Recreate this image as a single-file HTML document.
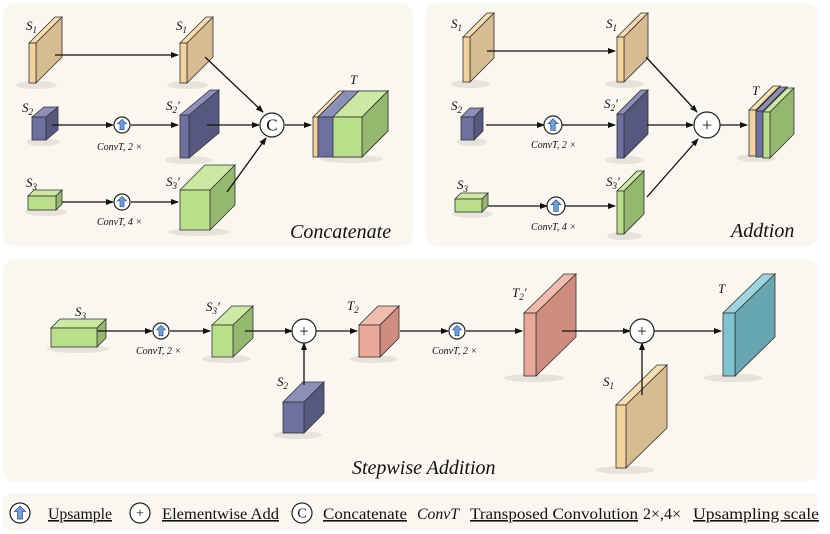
<!DOCTYPE html>
<html><head><meta charset="utf-8"><style>
html,body{margin:0;padding:0;background:#fff;width:830px;height:534px;overflow:hidden}
svg{display:block}
text{font-family:"Liberation Serif",serif;fill:#111}
.it{font-style:italic}
</style></head><body>
<svg id="s" width="830" height="534" viewBox="0 0 830 534" xmlns="http://www.w3.org/2000/svg">
<defs>
<marker id="a" markerWidth="8" markerHeight="8" refX="7" refY="4" orient="auto" markerUnits="userSpaceOnUse"><path d="M0,1 L8,4 L0,7 z" fill="#111"/></marker>
</defs>
<rect x="3" y="3" width="410" height="243" rx="12" fill="#faf7f0"/>
<rect x="426" y="3" width="392" height="243" rx="12" fill="#faf7f0"/>
<rect x="3" y="259" width="815" height="223" rx="12" fill="#faf7f0"/>
<rect x="3" y="493" width="815" height="38" rx="8" fill="#faf7f0"/>
<g id="shapes"></g>
<g id="lines" stroke="#111" stroke-width="1.3" fill="none">
<line x1="55" y1="55" x2="178" y2="55" marker-end="url(#a)"/>
<line x1="52" y1="125" x2="113" y2="125" marker-end="url(#a)"/>
<line x1="131" y1="125" x2="178" y2="125" marker-end="url(#a)"/>
<line x1="62" y1="202" x2="113" y2="202" marker-end="url(#a)"/>
<line x1="131" y1="202" x2="178" y2="202" marker-end="url(#a)"/>
<line x1="205" y1="57" x2="263" y2="112" marker-end="url(#a)"/>
<line x1="207" y1="125" x2="259" y2="125" marker-end="url(#a)"/>
<line x1="227" y1="192" x2="266" y2="138" marker-end="url(#a)"/>
<line x1="285" y1="125" x2="311" y2="125" marker-end="url(#a)"/>
<line x1="487" y1="51" x2="615" y2="51" marker-end="url(#a)"/>
<line x1="486" y1="125" x2="544" y2="125" marker-end="url(#a)"/>
<line x1="562" y1="125" x2="615" y2="125" marker-end="url(#a)"/>
<line x1="488" y1="206" x2="547" y2="206" marker-end="url(#a)"/>
<line x1="565" y1="206" x2="615" y2="206" marker-end="url(#a)"/>
<line x1="646" y1="57" x2="697" y2="112" marker-end="url(#a)"/>
<line x1="647" y1="125" x2="693" y2="125" marker-end="url(#a)"/>
<line x1="647" y1="197" x2="698" y2="139" marker-end="url(#a)"/>
<line x1="720" y1="125" x2="747" y2="125" marker-end="url(#a)"/>
<line x1="97" y1="331" x2="152" y2="331" marker-end="url(#a)"/>
<line x1="170" y1="331" x2="210" y2="331" marker-end="url(#a)"/>
<line x1="245" y1="331" x2="292" y2="331" marker-end="url(#a)"/>
<line x1="304" y1="385" x2="304" y2="343" marker-end="url(#a)"/>
<line x1="316" y1="331" x2="357" y2="331" marker-end="url(#a)"/>
<line x1="400" y1="331" x2="448" y2="331" marker-end="url(#a)"/>
<line x1="466" y1="331" x2="522" y2="331" marker-end="url(#a)"/>
<line x1="562" y1="331" x2="630" y2="331" marker-end="url(#a)"/>
<line x1="642" y1="395" x2="642" y2="343" marker-end="url(#a)"/>
<line x1="654" y1="331" x2="721" y2="331" marker-end="url(#a)"/>
</g>
<g id="circles"></g>
<g font-size="13">
<text x="26" y="30" class="it">S<tspan font-size="9" dy="3">1</tspan></text>
<text x="176" y="30" class="it">S<tspan font-size="9" dy="3">1</tspan></text>
<text x="22" y="112" class="it">S<tspan font-size="9" dy="3">2</tspan></text>
<text x="166" y="110" class="it">S<tspan font-size="9" dy="3">2</tspan><tspan dy="-3">′</tspan></text>
<text x="26" y="187" class="it">S<tspan font-size="9" dy="3">3</tspan></text>
<text x="166" y="186" class="it">S<tspan font-size="9" dy="3">3</tspan><tspan dy="-3">′</tspan></text>
<text x="350" y="84" class="it">T</text>
<text x="97" y="150" class="it" font-size="10">ConvT, 2 ×</text>
<text x="97" y="225" class="it" font-size="10">ConvT, 4 ×</text>
<text x="290" y="238" class="it" font-size="20">Concatenate</text>

<text x="451" y="28" class="it">S<tspan font-size="9" dy="3">1</tspan></text>
<text x="606" y="28" class="it">S<tspan font-size="9" dy="3">1</tspan></text>
<text x="451" y="110" class="it">S<tspan font-size="9" dy="3">2</tspan></text>
<text x="604" y="108" class="it">S<tspan font-size="9" dy="3">2</tspan><tspan dy="-3">′</tspan></text>
<text x="457" y="189" class="it">S<tspan font-size="9" dy="3">3</tspan></text>
<text x="606" y="186" class="it">S<tspan font-size="9" dy="3">3</tspan><tspan dy="-3">′</tspan></text>
<text x="752" y="95" class="it">T</text>
<text x="531" y="148" class="it" font-size="10">ConvT, 2 ×</text>
<text x="531" y="230" class="it" font-size="10">ConvT, 4 ×</text>
<text x="731" y="237" class="it" font-size="20">Addtion</text>

<text x="75" y="316" class="it">S<tspan font-size="9" dy="3">3</tspan></text>
<text x="206" y="311" class="it">S<tspan font-size="9" dy="3">3</tspan><tspan dy="-3">′</tspan></text>
<text x="347" y="310" class="it">T<tspan font-size="9" dy="3">2</tspan></text>
<text x="512" y="297" class="it">T<tspan font-size="9" dy="3">2</tspan><tspan dy="-3">′</tspan></text>
<text x="277" y="386" class="it">S<tspan font-size="9" dy="3">2</tspan></text>
<text x="603" y="386" class="it">S<tspan font-size="9" dy="3">1</tspan></text>
<text x="718" y="293" class="it">T</text>
<text x="136" y="354" class="it" font-size="10">ConvT, 2 ×</text>
<text x="432" y="354" class="it" font-size="10">ConvT, 2 ×</text>
<text x="352" y="474" class="it" font-size="20">Stepwise Addition</text>
</g>
<g font-size="16">
<text x="48" y="519" text-decoration="underline" textLength="64" lengthAdjust="spacingAndGlyphs">Upsample</text>
<text x="162" y="519" text-decoration="underline" textLength="117" lengthAdjust="spacingAndGlyphs">Elementwise Add</text>
<text x="323" y="519" text-decoration="underline" textLength="84" lengthAdjust="spacingAndGlyphs">Concatenate</text>
<text x="417" y="519" class="it" textLength="42" lengthAdjust="spacingAndGlyphs">ConvT</text>
<text x="470" y="519" text-decoration="underline" textLength="168" lengthAdjust="spacingAndGlyphs">Transposed Convolution</text>
<text x="643" y="519" textLength="38" lengthAdjust="spacingAndGlyphs">2×,4×</text>
<text x="693" y="519" text-decoration="underline" textLength="126" lengthAdjust="spacingAndGlyphs">Upsampling scale</text>
</g>
</svg>
<script>
var NS="http://www.w3.org/2000/svg";
var C={tan:["#f3d39c","#f7ddb0","#d6bc90"],pur:["#6e70a0","#8d8fba","#56587f"],grn:["#b9df8a","#cbe9a3","#94b86e"],sal:["#eaa898","#f0bcae","#d18c80"],teal:["#80c4d1","#9dd4de","#67a7b4"]};
var g=document.getElementById("shapes");
function el(t,a,p){var e=document.createElementNS(NS,t);for(var k in a)e.setAttribute(k,a[k]);(p||g).appendChild(e);return e;}
function cub(x,y,w,h,d,dy,c,sh){var k=C[c];
 if(sh!==false)el("ellipse",{cx:x+w/2+4,cy:y+h+2,rx:(w+d)/2+4,ry:4,fill:"#000",opacity:"0.08"});
 var s={stroke:"#333","stroke-width":"0.8"};
 el("polygon",Object.assign({points:[x,y,x+d,y-dy,x+w+d,y-dy,x+w,y].join(","),fill:k[1]},s));
 el("polygon",Object.assign({points:[x+w,y,x+w+d,y-dy,x+w+d,y+h-dy,x+w,y+h].join(","),fill:k[2]},s));
 el("rect",Object.assign({x:x,y:y,width:w,height:h,fill:k[0]},s));}
cub(29,43,7,40,26,26,"tan");cub(180,43,7,40,26,26,"tan");
cub(32,117,14,23,12,10,"pur");cub(180,115,9,43,30,25,"pur");
cub(28,196,28,14,6,6,"grn");cub(180,190,30,40,25,25,"grn");
cub(333,117,29,40,26,26,"grn");
cub(313,117,5,40,26,26,"tan",false);cub(318,117,15,40,26,26,"pur",false);cub(333,117,29,40,26,26,"grn",false);
cub(463,37,7,45,24,24,"tan");cub(617,37,7,45,24,24,"tan");
cub(461,117,13,23,9,9,"pur");cub(617,114,7,44,24,24,"pur");
cub(455,199,27,13,6,6,"grn");cub(617,191,7,43,20,20,"grn");
cub(749,110,7,46,24,24,"tan");cub(756,111,7,46,24,24,"pur",false);cub(763,112,7,46,24,24,"grn",false);
cub(51,328,46,19,9,9,"grn");cub(212,325,21,32,20,19,"grn");
cub(283,402,21,31,20,20,"pur");cub(359,325,21,32,19,19,"sal");
cub(524,313,12,63,40,39,"sal");cub(616,405,10,63,41,40,"tan");
cub(723,313,12,63,40,39,"teal");
var cg=document.getElementById("circles");
function circ(x,y,r,t){el("circle",{cx:x,cy:y,r:r,fill:"#fff",stroke:"#222","stroke-width":"1.2"},cg);
 if(t=="up"){el("path",{d:"M"+x+","+(y-r*0.7)+" l"+(-r*0.55)+","+(r*0.55)+" h"+(r*0.3)+" v"+(r*0.75)+" h"+(r*0.5)+" v"+(-r*0.75)+" h"+(r*0.3)+" z",fill:"#6f9fdc",stroke:"#2d4f86","stroke-width":"0.7"},cg);}
 else{var tx=el("text",{x:x,y:y+r*0.45,"text-anchor":"middle","font-size":r*1.4},cg);tx.textContent=t;}}
circ(122,125,8,"up");circ(122,202,8,"up");circ(272,125,12,"C");
circ(553,125,9,"up");circ(556,206,9,"up");circ(707,125,13,"+");
circ(161,331,8,"up");circ(304,331,12,"+");circ(457,331,8,"up");circ(642,331,12,"+");
circ(20,513,10,"up");circ(140,513,10,"+");circ(302,513,10,"C");
</script>
</body></html>
